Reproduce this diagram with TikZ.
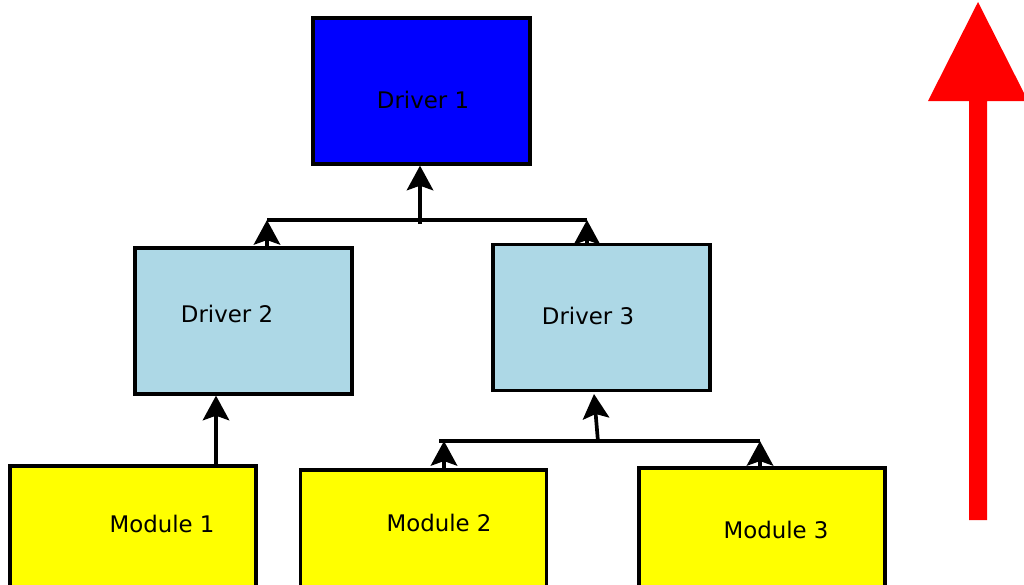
\documentclass[tikz,border=0pt]{standalone}
\usepackage{fontspec}
\setmainfont{DejaVu Sans}
\usepackage{tikz}
\usetikzlibrary{arrows.meta,positioning}
\definecolor{lightblue}{RGB}{173,216,230}
\definecolor{modyellow}{RGB}{255,255,0}
\definecolor{drvblue}{RGB}{0,0,255}

\begin{document}
\begin{tikzpicture}[x=0.01cm, y=-0.01cm,
    box/.style={draw=black, line width=0.9pt, minimum width=2.17cm, minimum height=1.46cm, inner sep=0pt},
    modbox/.style={box, fill=modyellow, minimum width=2.46cm},
    txt/.style={font=\fontsize{6.5}{7.8}\selectfont},
    link/.style={line width=1.05pt},
    up/.style={link, -{Stealth[length=7pt, width=7.5pt, inset=1.3pt, fill=black]}}]
    \useasboundingbox (0,0) rectangle (1024,584);
    \clip (0,0) rectangle (1024,584);

    % drivers
    \node[box, fill=drvblue] (drv1) at (421.5,91) {};
    \node[txt] (drv1txt) at (423,100) {Driver 1};
    \node[box, fill=lightblue] (drv2) at (243.5,321) {};
    \node[txt] (drv2txt) at (227,314) {Driver 2};
    \node[box, fill=lightblue] (drv3) at (601.5,317.5) {};
    \node[txt] (drv3txt) at (588,316) {Driver 3};

    % modules (cut by the lower edge)
    \node[modbox] (mod1) at (133,539) {};
    \node[txt] (mod1txt) at (162,524) {Module 1};
    \node[modbox] (mod2) at (423.5,543) {};
    \node[txt] (mod2txt) at (439,523) {Module 2};
    \node[modbox] (mod3) at (762,541) {};
    \node[txt] (mod3txt) at (776,530) {Module 3};

    % upper bus: driver 2 and driver 3 into driver 1
    \coordinate (busAL) at (267,220);
    \coordinate (busAR) at (587,220);
    \coordinate (busAM) at (420,224);
    \draw[link] (busAL) -- (busAR);
    \draw[up] (busAM) -- (busAM |- drv1.south);
    \draw[up] (drv2.north -| busAL) -- (busAL);
    \draw[up] (drv3.north -| busAR) -- (busAR);

    % module 1 into driver 2
    \coordinate (m1top) at (216,466);
    \draw[up] (m1top) -- (m1top |- drv2.south);

    % lower bus: module 2 and module 3 into driver 3
    \coordinate (busBL) at (439,441);
    \coordinate (busBR) at (760,441);
    \coordinate (busBM) at (598,442);
    \draw[link] (busBL) -- (busBR);
    \draw[up] (busBM) -- (594,394);
    \draw[up] (mod2.north -| 444,0) -- (444,441);
    \draw[up] (mod3.north -| busBR) -- (busBR);

    % big red arrow
    \fill[red] (969,520) -- (969,101) -- (928,101) -- (978,2) -- (1028,101)
        -- (987,101) -- (987,520) -- cycle;
\end{tikzpicture}
\end{document}
